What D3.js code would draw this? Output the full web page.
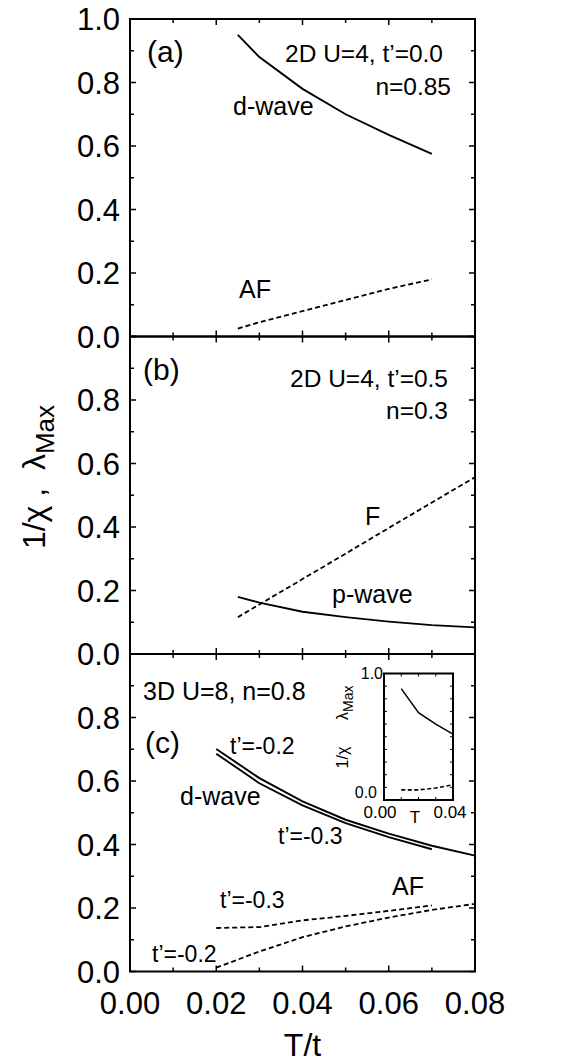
<!DOCTYPE html>
<html>
<head>
<meta charset="utf-8">
<script src="https://cdn.jsdelivr.net/npm/d3@7"></script>
<style>
  body { margin: 0; background: #fff; }
  text { font-family: "Liberation Sans", Arial, Helvetica, sans-serif; fill: #000; }
</style>
</head>
<body>
<div id="chart"></div>
<script>
// ---- data ----
var aT = [0.025, 0.03, 0.04, 0.05, 0.06, 0.07];
var aDwave = [0.95, 0.88, 0.78, 0.70, 0.635, 0.575];
var aAF = [0.025, 0.045, 0.08, 0.115, 0.15, 0.18];

var bT = [0.025, 0.03, 0.04, 0.05, 0.06, 0.07, 0.08];
var bPwave = [0.18, 0.162, 0.133, 0.116, 0.102, 0.091, 0.084];
var bF = [0.116, 0.156, 0.236, 0.316, 0.397, 0.477, 0.557];

var cT = [0.02, 0.03, 0.04, 0.05, 0.06, 0.07, 0.08];
var cDwave02 = [0.701, 0.609, 0.536, 0.478, 0.434, 0.396, 0.365];
var cDwave03 = [0.686, 0.593, 0.523, 0.467, 0.423, 0.385];
var cAF03 = [0.137, 0.14, 0.161, 0.175, 0.191, 0.208];
var cAF02 = [0.012, 0.063, 0.108, 0.142, 0.17, 0.194, 0.213];

var insetT = [0.01, 0.02, 0.03, 0.04];
var insetDwave = [0.88, 0.69, 0.60, 0.52];
var insetAF = [0.08, 0.08, 0.095, 0.12];

var xTicks = [0, 0.01, 0.02, 0.03, 0.04, 0.05, 0.06, 0.07, 0.08];
var xTickLabels = ["0.00", "0.02", "0.04", "0.06", "0.08"];
var yTicks = [0, 0.1, 0.2, 0.3, 0.4, 0.5, 0.6, 0.7, 0.8, 0.9, 1.0];

// ---- set-up ----
var W = 576, H = 1063;
var left = 130, right = 475;
var panelH = 317.5;
var tops = [19, 336.5, 654];

var svg = d3.select("#chart").append("svg")
    .attr("width", W).attr("height", H);

var x = d3.scaleLinear().domain([0, 0.08]).range([left, right]);

function zip(xs, ys) {
    return ys.map(function (v, i) { return [xs[i], v]; });
}

function drawPanel(top, yLabels) {
    var y = d3.scaleLinear().domain([0, 1]).range([top + panelH, top]);
    var g = svg.append("g");

    // frame
    g.append("rect")
        .attr("x", left).attr("y", top)
        .attr("width", right - left).attr("height", panelH)
        .attr("fill", "none").attr("stroke", "#000").attr("stroke-width", 2);

    // y ticks, both sides, inward
    yTicks.forEach(function (t) {
        var len = (Math.round(t * 10) % 2 === 0) ? 6 : 4;
        g.append("line").attr("x1", left).attr("x2", left + len)
            .attr("y1", y(t)).attr("y2", y(t)).attr("stroke", "#000").attr("stroke-width", 1.5);
        g.append("line").attr("x1", right).attr("x2", right - len)
            .attr("y1", y(t)).attr("y2", y(t)).attr("stroke", "#000").attr("stroke-width", 1.5);
    });
    // x ticks top and bottom, inward
    xTicks.forEach(function (t) {
        var len = (Math.round(t * 100) % 2 === 0) ? 6 : 4;
        g.append("line").attr("x1", x(t)).attr("x2", x(t))
            .attr("y1", top + panelH).attr("y2", top + panelH - len).attr("stroke", "#000").attr("stroke-width", 1.5);
        g.append("line").attr("x1", x(t)).attr("x2", x(t))
            .attr("y1", top).attr("y2", top + len).attr("stroke", "#000").attr("stroke-width", 1.5);
    });

    yLabels.forEach(function (v) {
        g.append("text")
            .attr("x", 120).attr("y", y(v)).attr("dy", "0.36em")
            .attr("text-anchor", "end")
            .style("font-size", "31px")
            .text(v.toFixed(1));
    });
    return { g: g, y: y };
}

function curve(g, y, pts, dashed) {
    var line = d3.line().x(function (d) { return x(d[0]); }).y(function (d) { return y(d[1]); });
    g.append("path")
        .datum(pts)
        .attr("d", line)
        .attr("fill", "none")
        .attr("stroke", "#000")
        .attr("stroke-width", dashed ? 1.8 : 1.9)
        .attr("stroke-dasharray", dashed ? "5,3" : null);
}

function label(g, px, py, txt, size, anchor) {
    g.append("text").attr("x", px).attr("y", py)
        .attr("text-anchor", anchor || "start")
        .style("font-size", size + "px")
        .text(txt);
}

// ---- panel (a) ----
var pa = drawPanel(tops[0], [0, 0.2, 0.4, 0.6, 0.8, 1.0]);
curve(pa.g, pa.y, zip(aT, aDwave), false);
curve(pa.g, pa.y, zip(aT, aAF), true);
label(pa.g, 147, 62, "(a)", 30);
label(pa.g, 443, 62, "2D U=4, t\u2019=0.0", 24.5, "end");
label(pa.g, 451, 95, "n=0.85", 24.5, "end");
label(pa.g, 233, 115, "d-wave", 25);
label(pa.g, 239, 298, "AF", 25);

// ---- panel (b) ----
var pb = drawPanel(tops[1], [0, 0.2, 0.4, 0.6, 0.8]);
curve(pb.g, pb.y, zip(bT, bPwave), false);
curve(pb.g, pb.y, zip(bT, bF), true);
label(pb.g, 143, 380, "(b)", 30);
label(pb.g, 448, 387, "2D U=4, t\u2019=0.5", 24.5, "end");
label(pb.g, 448, 419, "n=0.3", 24.5, "end");
label(pb.g, 365, 525, "F", 25);
label(pb.g, 332, 603, "p-wave", 25);

// ---- panel (c) ----
var pc = drawPanel(tops[2], [0, 0.2, 0.4, 0.6, 0.8]);
curve(pc.g, pc.y, zip(cT, cDwave02), false);
curve(pc.g, pc.y, zip(cT, cDwave03), false);
curve(pc.g, pc.y, zip(cT, cAF03), true);
curve(pc.g, pc.y, zip(cT, cAF02), true);
label(pc.g, 143, 700, "3D U=8, n=0.8", 25);
label(pc.g, 145, 753, "(c)", 30);
label(pc.g, 230, 754, "t\u2019=-0.2", 23);
label(pc.g, 180, 805, "d-wave", 25);
label(pc.g, 278, 844, "t\u2019=-0.3", 23);
label(pc.g, 392, 895, "AF", 25);
label(pc.g, 220, 908, "t\u2019=-0.3", 23);
label(pc.g, 152, 962, "t\u2019=-0.2", 23);

// x tick labels
var bottom = tops[2] + panelH;
xTickLabels.forEach(function (s) {
    svg.append("text")
        .attr("x", x(+s)).attr("y", bottom + 42)
        .attr("text-anchor", "middle")
        .style("font-size", "31px")
        .text(s);
});
svg.append("text")
    .attr("x", x(0.04)).attr("y", 1056)
    .attr("text-anchor", "middle")
    .style("font-size", "32px")
    .text("T/t");

// y title
var yt = svg.append("text")
    .attr("transform", "translate(45,477) rotate(-90)")
    .attr("text-anchor", "middle")
    .style("font-size", "32px")
    .style("white-space", "pre");
yt.append("tspan").text("1/\u03c7 ,  \u03bb");
yt.append("tspan").attr("dy", 9).style("font-size", "26px").text("Max");

// ---- inset ----
var ix = d3.scaleLinear().domain([0, 0.04]).range([384, 453]);
var iy = d3.scaleLinear().domain([0, 1]).range([800, 673.5]);
var ig = svg.append("g");
ig.append("rect").attr("x", 384).attr("y", 673.5).attr("width", 69).attr("height", 126.5)
    .attr("fill", "#fff").attr("stroke", "#000").attr("stroke-width", 2);
yTicks.forEach(function (t) {
    ig.append("line").attr("x1", ix(0)).attr("x2", ix(0) + 3).attr("y1", iy(t)).attr("y2", iy(t))
        .attr("stroke", "#000").attr("stroke-width", 1);
    ig.append("line").attr("x1", ix(0.04)).attr("x2", ix(0.04) - 3).attr("y1", iy(t)).attr("y2", iy(t))
        .attr("stroke", "#000").attr("stroke-width", 1);
});
[0.01, 0.02, 0.03].forEach(function (t) {
    ig.append("line").attr("x1", ix(t)).attr("x2", ix(t)).attr("y1", iy(0)).attr("y2", iy(0) - 3)
        .attr("stroke", "#000").attr("stroke-width", 1);
    ig.append("line").attr("x1", ix(t)).attr("x2", ix(t)).attr("y1", iy(1)).attr("y2", iy(1) + 3)
        .attr("stroke", "#000").attr("stroke-width", 1);
});
var iline = d3.line().x(function (d) { return ix(d[0]); }).y(function (d) { return iy(d[1]); });
ig.append("path").datum(zip(insetT, insetDwave)).attr("d", iline)
    .attr("fill", "none").attr("stroke", "#000").attr("stroke-width", 1.5);
ig.append("path").datum(zip(insetT, insetAF)).attr("d", iline)
    .attr("fill", "none").attr("stroke", "#000").attr("stroke-width", 1.6).attr("stroke-dasharray", "4,2.5");

label(ig, 383, 679, "1.0", 16, "end");
label(ig, 377, 798, "0.0", 16, "end");
label(ig, 380, 818, "0.00", 17, "middle");
label(ig, 415, 823, "T", 17, "middle");
label(ig, 450, 818, "0.04", 17, "middle");
var iyt = ig.append("text")
    .attr("transform", "translate(348,727) rotate(-90)")
    .attr("text-anchor", "middle")
    .style("font-size", "16px")
    .style("white-space", "pre");
iyt.append("tspan").text("1/\u03c7      \u03bb");
iyt.append("tspan").attr("dy", 5).style("font-size", "14px").text("Max");
</script>
</body>
</html>
